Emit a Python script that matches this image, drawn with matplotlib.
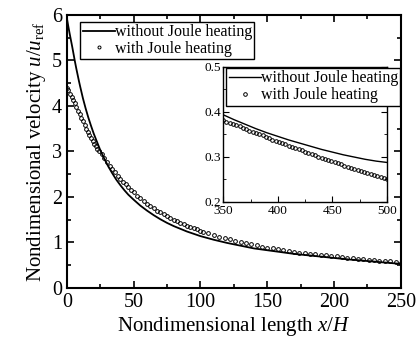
import numpy as np
import matplotlib
matplotlib.use("Agg")
import matplotlib.pyplot as plt
from matplotlib.ticker import MultipleLocator

plt.rcParams['font.family'] = ['Liberation Serif', 'DejaVu Serif']
plt.rcParams['mathtext.fontset'] = 'custom'
plt.rcParams['mathtext.rm'] = 'Liberation Serif'
plt.rcParams['mathtext.it'] = 'Liberation Serif:italic'

# main plot: without Joule heating (solid line)
x_line = [0, 1, 2, 3, 4, 5, 6, 7, 8, 9, 10, 12, 14, 16, 18, 20, 22, 25, 28, 31, 34, 37,
          40, 43, 46, 50, 55, 60, 65, 70, 75, 80, 90, 100, 110, 120, 130, 140, 150,
          160, 170, 180, 190, 200, 210, 220, 230, 240, 250]
u_line = [5.93, 5.76, 5.60, 5.45, 5.30, 5.14, 4.98, 4.83, 4.69, 4.55, 4.42, 4.17, 3.95,
          3.75, 3.57, 3.40, 3.25, 3.03, 2.84, 2.67, 2.52, 2.38, 2.26, 2.15, 2.05, 1.94,
          1.81, 1.70, 1.60, 1.51, 1.43, 1.36, 1.24, 1.14, 1.06, 0.99, 0.93, 0.87, 0.83,
          0.79, 0.75, 0.72, 0.69, 0.66, 0.63, 0.605, 0.58, 0.555, 0.53]

# main plot: with Joule heating (circles)
x_circ = [0, 1.2, 2.4, 3.6, 4.8, 6.0, 7.2, 8.4, 9.6, 10.8, 12.0, 13.2, 14.4, 15.6, 16.8,
          18.0, 19.2, 20.4, 21.6, 22.8, 24.0, 26, 28, 30, 32, 34, 36, 38, 40, 42, 44,
          46, 48, 50, 52.5, 55, 57.5, 60, 62.5, 65, 67.5, 70, 72.5, 75, 77.5, 80, 82.5,
          85, 87.5, 90, 92.5, 95, 97.5, 100, 102, 106, 110, 114, 118, 122, 126, 130,
          134, 138, 142, 146, 150, 154, 158, 162, 166, 170, 174, 178, 182, 186, 190,
          194, 198, 202, 206, 210, 214, 218, 222, 226, 230, 234, 238, 242, 246, 250]
u_circ = [4.40, 4.34, 4.27, 4.20, 4.13, 4.06, 3.98, 3.90, 3.82, 3.74, 3.66, 3.58, 3.50,
          3.43, 3.36, 3.29, 3.23, 3.17, 3.11, 3.05, 3.00, 2.95, 2.86, 2.77, 2.69, 2.61,
          2.54, 2.47, 2.40, 2.34, 2.28, 2.22, 2.16, 2.10, 2.03, 1.97, 1.91, 1.85, 1.80,
          1.75, 1.70, 1.66, 1.62, 1.58, 1.54, 1.50, 1.47, 1.43, 1.40, 1.37, 1.34, 1.31,
          1.29, 1.26, 1.24, 1.20, 1.16, 1.13, 1.10, 1.07, 1.04, 1.01, 0.99, 0.96, 0.94,
          0.91, 0.89, 0.87, 0.86, 0.84, 0.82, 0.80, 0.78, 0.77, 0.755, 0.74, 0.73, 0.72,
          0.705, 0.695, 0.68, 0.67, 0.66, 0.645, 0.635, 0.625, 0.61, 0.60, 0.595, 0.585,
          0.57, 0.56]

# inset: x from 350 to 500
x_in_line = [350, 360, 370, 380, 390, 400, 410, 420, 430, 440, 450, 460, 470, 480, 490, 500]
u_in_line = [0.393, 0.382, 0.372, 0.362, 0.353, 0.345, 0.337, 0.330, 0.323, 0.316,
             0.310, 0.304, 0.299, 0.294, 0.290, 0.287]
x_in_circ = [350, 353, 356, 359, 362, 365, 368, 371, 374, 377, 380, 383, 386, 389, 392,
             395, 398, 401, 404, 407, 410, 413, 416, 419, 422, 425, 428, 431, 434, 437,
             440, 443, 446, 449, 452, 455, 458, 461, 464, 467, 470, 473, 476, 479, 482,
             485, 488, 491, 494, 497, 500]
u_in_circ = [0.381, 0.378, 0.375, 0.372, 0.370, 0.367, 0.364, 0.361, 0.358, 0.355, 0.352,
             0.350, 0.347, 0.344, 0.341, 0.338, 0.335, 0.332, 0.330, 0.327, 0.324, 0.322,
             0.319, 0.316, 0.314, 0.311, 0.308, 0.306, 0.303, 0.300, 0.298, 0.295, 0.293,
             0.290, 0.288, 0.285, 0.283, 0.280, 0.278, 0.275, 0.273, 0.271, 0.268, 0.266,
             0.264, 0.261, 0.259, 0.257, 0.255, 0.252, 0.250]

lab_line = 'without Joule heating'
lab_circ = 'with Joule heating'

fig = plt.figure(figsize=(4.18, 3.47), dpi=100)
ax = fig.add_axes([0.160, 0.170, 0.799, 0.787])

ax.plot(x_line, u_line, color='black', lw=1.3, label=lab_line)
ax.plot(x_circ, u_circ, ls='none', marker='o', ms=2.7, mfc='none', mec='black',
        mew=0.7, label=lab_circ)
ax.set_xlim(0, 250)
ax.set_ylim(0, 6)
ax.xaxis.set_major_locator(MultipleLocator(50))
ax.xaxis.set_minor_locator(MultipleLocator(25))
ax.yaxis.set_major_locator(MultipleLocator(1))
ax.yaxis.set_minor_locator(MultipleLocator(0.5))
ax.tick_params(which='both', direction='in', top=True, right=True, labelsize=14.5, width=1.2)
ax.tick_params(which='major', length=5)
ax.tick_params(which='minor', length=3)
for s in ax.spines.values():
    s.set_linewidth(1.5)
ax.set_xlabel('Nondimensional length $x/H$', fontsize=15, labelpad=2)
ax.set_ylabel('Nondimensional velocity $u/u_{\\mathrm{ref}}$', fontsize=15, labelpad=3)

leg = ax.legend(loc='upper left', bbox_to_anchor=(0.04, 0.975), fontsize=11.5,
                frameon=True, fancybox=False, edgecolor='black', framealpha=1,
                handlelength=2.0, handletextpad=0.0, borderpad=0.15, labelspacing=0.05,
                numpoints=1, borderaxespad=0, markerscale=0.8)
leg.get_frame().set_linewidth(1.0)

# inset
axi = fig.add_axes([0.534, 0.419, 0.392, 0.389])
axi.plot(x_in_line, u_in_line, color='black', lw=1.0, label=lab_line)
axi.plot(x_in_circ, u_in_circ, ls='none', marker='o', ms=2.6, mfc='none', mec='black',
         mew=0.7, label=lab_circ)
axi.set_xlim(350, 500)
axi.set_ylim(0.2, 0.5)
axi.xaxis.set_major_locator(MultipleLocator(50))
axi.xaxis.set_minor_locator(MultipleLocator(25))
axi.yaxis.set_major_locator(MultipleLocator(0.1))
axi.yaxis.set_minor_locator(MultipleLocator(0.05))
axi.tick_params(which='both', direction='in', top=True, right=True, labelsize=9.5)
axi.tick_params(axis='x', pad=2.5)
axi.tick_params(axis='y', pad=1.5)
axi.tick_params(which='major', length=4)
axi.tick_params(which='minor', length=2)
for s in axi.spines.values():
    s.set_linewidth(1.0)

legi = axi.legend(loc='upper left', bbox_to_anchor=(0.02, 0.99), fontsize=11.5,
                  frameon=True, fancybox=False, edgecolor='black', framealpha=1,
                  handlelength=2.0, handletextpad=0.0, borderpad=0.15, labelspacing=0.05,
                  numpoints=1, borderaxespad=0, markerscale=1.0)
legi.get_frame().set_linewidth(1.0)

fig.savefig('out.png', dpi=100)
